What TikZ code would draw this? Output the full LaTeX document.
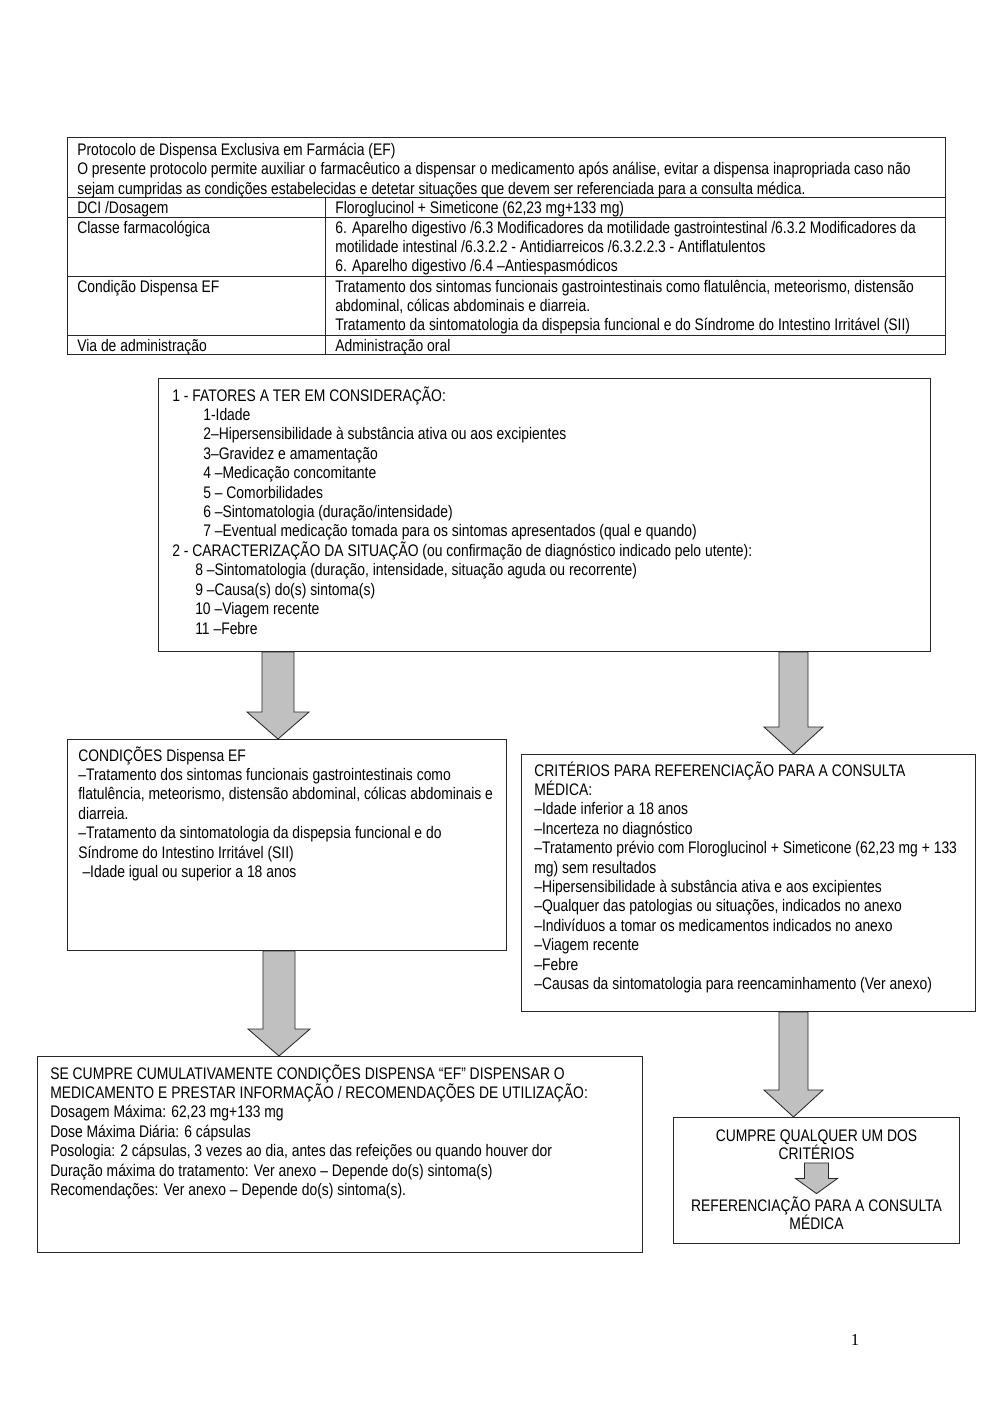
\documentclass[tikz,border=0pt]{standalone}
\usepackage{fontspec}
\setmainfont{Liberation Sans}[FakeStretch=0.83]
\newfontfamily\pagenumfont{Liberation Serif}
\usepackage{tikz}
\usetikzlibrary{calc}
\definecolor{aGray}{RGB}{192,192,192}
\definecolor{bLine}{RGB}{40,40,40}
\newlength\pxu
\setlength\pxu{0.021cm}
\newcommand{\tstrut}{\rule{0pt}{9pt}}
\tikzset{
  frame/.style={rectangle, draw=bLine, line width=0.6pt, anchor=north west,
                inner sep=0pt},
  grid/.style={draw=bLine, line width=0.6pt},
  txt/.style={anchor=north west, inner sep=0pt, align=left,
              font=\fontsize{10}{11.6}\selectfont},
  ctxt/.style={txt, anchor=north, align=center,
               font=\fontsize{10}{10.8}\selectfont},
  barrow/.style n args={3}{draw=bLine, line width=0.5pt, fill=aGray,
    to path={let \p1=(\tikztostart), \p2=(\tikztotarget) in
      (\x1-#1,\y1) -- (\x1-#1,\y2+#3) -- (\x1-#2,\y2+#3) -- (\x1,\y2)
      -- (\x1+#2,\y2+#3) -- (\x1+#1,\y2+#3) -- (\x1+#1,\y1) -- cycle}},
  larrow/.style={barrow={9.6pt}{18.5pt}{16.1pt}},
  rarrow/.style={barrow={8.7pt}{17.6pt}{16.1pt}},
  sarrow/.style={barrow={7.2pt}{12.5pt}{9pt}},
}

\begin{document}
\begin{tikzpicture}[x=0.021cm, y=-0.021cm]
  \useasboundingbox (0,0) rectangle (1000,1415);

  % table
  \node[frame, minimum width=878*\pxu, minimum height=217*\pxu] (tab) at (67,137) {};
  \draw[grid] (67,197) -- (945,197) (67,217) -- (945,217)
              (67,276) -- (945,276) (67,335) -- (945,335)
              (325,197) -- (325,354);
  \node[txt] (hd) at (77,140) {\tstrut Protocolo de Dispensa Exclusiva em Farmácia (EF)\\
    O presente protocolo permite auxiliar o farmacêutico a dispensar o medicamento após análise, evitar a dispensa inapropriada caso não\\
    sejam cumpridas as condições estabelecidas e detetar situações que devem ser referenciada para a consulta médica.};
  \node[txt] (dci) at (77,197.6) {\tstrut DCI /Dosagem};
  \node[txt] (dciv) at (335,197.6) {\tstrut Floroglucinol + Simeticone (62,23 mg+133 mg)};
  \node[txt] (cls) at (77,217.6) {\tstrut Classe farmacológica};
  \node[txt] (clsv) at (335,217.6) {\tstrut 6. Aparelho digestivo /6.3 Modificadores da motilidade gastrointestinal /6.3.2 Modificadores da\\
    motilidade intestinal /6.3.2.2 - Antidiarreicos /6.3.2.2.3 - Antiflatulentos\\
    6. Aparelho digestivo /6.4 –Antiespasmódicos};
  \node[txt] (cnd) at (77,276.6) {\tstrut Condição Dispensa EF};
  \node[txt] (cndv) at (335,276.6) {\tstrut Tratamento dos sintomas funcionais gastrointestinais como flatulência, meteorismo, distensão\\
    abdominal, cólicas abdominais e diarreia.\\
    Tratamento da sintomatologia da dispepsia funcional e do Síndrome do Intestino Irritável (SII)};
  \node[txt] (via) at (77,335.6) {\tstrut Via de administração};
  \node[txt] (viav) at (335,335.6) {\tstrut Administração oral};

  % boxes
  \node[frame, minimum width=772*\pxu, minimum height=273*\pxu] (fat) at (158,378) {};
  \node[txt] (fattxt) at ([shift={(14,7.6)}]fat.north west) {\tstrut 1 - FATORES A TER EM CONSIDERAÇÃO:\\
    \hspace*{18.5pt}1-Idade\\
    \hspace*{18.5pt}2–Hipersensibilidade à substância ativa ou aos excipientes\\
    \hspace*{18.5pt}3–Gravidez e amamentação\\
    \hspace*{18.5pt}4 –Medicação concomitante\\
    \hspace*{18.5pt}5 – Comorbilidades\\
    \hspace*{18.5pt}6 –Sintomatologia (duração/intensidade)\\
    \hspace*{18.5pt}7 –Eventual medicação tomada para os sintomas apresentados (qual e quando)\\
    2 - CARACTERIZAÇÃO DA SITUAÇÃO (ou confirmação de diagnóstico indicado pelo utente):\\
    \hspace*{13.7pt}8 –Sintomatologia (duração, intensidade, situação aguda ou recorrente)\\
    \hspace*{13.7pt}9 –Causa(s) do(s) sintoma(s)\\
    \hspace*{13.7pt}10 –Viagem recente\\
    \hspace*{13.7pt}11 –Febre};

  \node[frame, minimum width=439*\pxu, minimum height=211*\pxu] (cond) at (67,739) {};
  \node[txt] (condtxt) at ([shift={(11,6.6)}]cond.north west) {\tstrut CONDIÇÕES Dispensa EF\\
    –Tratamento dos sintomas funcionais gastrointestinais como\\
    flatulência, meteorismo, distensão abdominal, cólicas abdominais e\\
    diarreia.\\
    –Tratamento da sintomatologia da dispepsia funcional e do\\
    Síndrome do Intestino Irritável (SII)\\
    \hspace*{2.5pt}–Idade igual ou superior a 18 anos};

  \node[frame, minimum width=454*\pxu, minimum height=257*\pxu] (crit) at (521,754) {};
  \node[txt] (crittxt) at ([shift={(13,6.6)}]crit.north west) {\tstrut CRITÉRIOS PARA REFERENCIAÇÃO PARA A CONSULTA\\
    MÉDICA:\\
    –Idade inferior a 18 anos\\
    –Incerteza no diagnóstico\\
    –Tratamento prévio com Floroglucinol + Simeticone (62,23 mg + 133\\
    mg) sem resultados\\
    –Hipersensibilidade à substância ativa e aos excipientes\\
    –Qualquer das patologias ou situações, indicados no anexo\\
    –Indivíduos a tomar os medicamentos indicados no anexo\\
    –Viagem recente\\
    –Febre\\
    –Causas da sintomatologia para reencaminhamento (Ver anexo)};

  \node[frame, minimum width=605*\pxu, minimum height=196*\pxu] (dis) at (37,1056) {};
  \node[txt] (distxt) at ([shift={(13,7.6)}]dis.north west) {\tstrut SE CUMPRE CUMULATIVAMENTE CONDIÇÕES DISPENSA “EF” DISPENSAR O\\
    MEDICAMENTO E PRESTAR INFORMAÇÃO / RECOMENDAÇÕES DE UTILIZAÇÃO:\\
    Dosagem Máxima: 62,23 mg+133 mg\\
    Dose Máxima Diária: 6 cápsulas\\
    Posologia: 2 cápsulas, 3 vezes ao dia, antes das refeições ou quando houver dor\\
    Duração máxima do tratamento: Ver anexo – Depende do(s) sintoma(s)\\
    Recomendações: Ver anexo – Depende do(s) sintoma(s).};

  \node[frame, minimum width=286*\pxu, minimum height=126*\pxu] (ref) at (673,1117) {};
  \node[ctxt] (ref1) at ([shift={(0,9)}]ref.north) {\tstrut CUMPRE QUALQUER UM DOS\\ CRITÉRIOS};
  \node[ctxt] (ref2) at ([shift={(0,78.6)}]ref.north) {\tstrut REFERENCIAÇÃO PARA A CONSULTA\\ MÉDICA};

  % arrows
  \draw[larrow] ([xshift=120*\pxu]fat.south west) to (cond.north);
  \draw[rarrow] ([xshift=635.5*\pxu]fat.south west) to (crit.north);
  \draw[larrow] ([xshift=212*\pxu]cond.south west) to (dis.north);
  \draw[rarrow] ([xshift=272.5*\pxu]crit.south west) to (ref.north);
  \draw[sarrow] ([yshift=-3*\pxu]ref1.south) to ([yshift=2*\pxu]ref2.north);

  \node[inner sep=0pt, font=\pagenumfont\fontsize{10}{12}\selectfont] (pnum) at (855,1340) {1};
\end{tikzpicture}
\end{document}
